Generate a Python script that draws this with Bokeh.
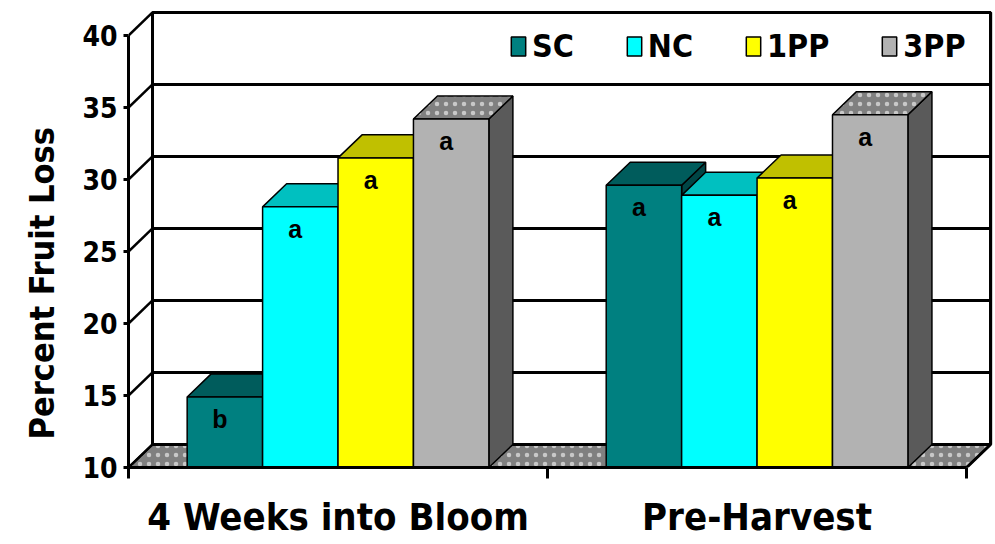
from bokeh.plotting import figure
from bokeh.models import Range1d, FixedTicker, Legend, LegendItem, Title, ColumnDataSource
from bokeh.core.properties import value
from bokeh.embed import file_html
from bokeh.resources import INLINE

# ---------------- data ----------------
categories = ["4 Weeks into Bloom", "Pre-Harvest"]
series_names = ["SC", "NC", "1PP", "3PP"]
sc_values = [14.9, 29.6]
nc_values = [28.1, 28.9]
pp1_values = [31.5, 30.1]
pp3_values = [34.2, 34.5]
sc_letters = ["b", "a"]
nc_letters = ["a", "a"]
pp1_letters = ["a", "a"]
pp3_letters = ["a", "a"]
y_ticks = [10, 15, 20, 25, 30, 35, 40]

# ---------------- style ----------------
FONT = "DejaVu Sans Condensed, Liberation Sans, sans-serif"
front_colors = ["#008080", "#00FFFF", "#FFFF00", "#B2B2B2"]
top_colors = ["#005C5C", "#00C0C0", "#C0C000", "#808080"]
side_colors = ["#004646", "#009090", "#909000", "#5A5A5A"]
BW = 0.18          # bar width (x units)
DX = 0.0573        # depth offset (x units)
DY = 1.6           # depth offset (y units)
Y0 = y_ticks[0]
Y1 = y_ticks[-1]
NCAT = len(categories)

p = figure(width=995, height=544, x_range=Range1d(0, 2.069), y_range=Range1d(Y0, 41.736),
           output_backend="svg", toolbar_location=None,
           min_border_left=128, min_border_right=0, min_border_top=10, min_border_bottom=77)
p.outline_line_color = None
p.xgrid.visible = False
p.ygrid.visible = False

# back wall
p.patch([DX, NCAT + DX, NCAT + DX, DX], [Y0 + DY, Y0 + DY, Y1 + DY, Y1 + DY],
        fill_color="white", line_color="black", line_width=3)
# floor
p.patch([0, NCAT, NCAT + DX, DX], [Y0, Y0, Y0 + DY, Y0 + DY],
        fill_color="#808080", line_color="black", line_width=2,
        hatch_pattern=".", hatch_color="#C8C8C8", hatch_scale=9, hatch_weight=1.2)
# gridlines on back wall + diagonals on the side wall
p.segment(x0=[DX] * len(y_ticks), y0=[t + DY for t in y_ticks],
          x1=[NCAT + DX] * len(y_ticks), y1=[t + DY for t in y_ticks],
          line_color="black", line_width=3)
p.segment(x0=[0] * len(y_ticks), y0=y_ticks, x1=[DX] * len(y_ticks), y1=[t + DY for t in y_ticks],
          line_color="black", line_width=2.5)
p.segment(x0=[DX, NCAT + DX, NCAT], y0=[Y0 + DY, Y0 + DY, Y0], x1=[DX, NCAT + DX, NCAT + DX],
          y1=[Y1 + DY, Y1 + DY, Y0 + DY], line_color="black", line_width=3)

all_values = [sc_values, nc_values, pp1_values, pp3_values]
all_letters = [sc_letters, nc_letters, pp1_letters, pp3_letters]
legend_items = []
for s, (name, vals, letters) in enumerate(zip(series_names, all_values, all_letters)):
    centers = [g + 0.5 + (s - 1.5) * BW for g in range(NCAT)]
    xl = [c - BW / 2 for c in centers]
    xr = [c + BW / 2 for c in centers]
    side_xs = [[r, r + DX, r + DX, r] for r in xr]
    side_ys = [[Y0, Y0 + DY, v + DY, v] for v in vals]
    p.patches(side_xs, side_ys, fill_color=side_colors[s], line_color="black", line_width=1.5)
    top_xs = [[l, r, r + DX, l + DX] for l, r in zip(xl, xr)]
    top_ys = [[v, v, v + DY, v + DY] for v in vals]
    if s == 3:
        p.patches(top_xs, top_ys, fill_color=top_colors[s], line_color="black", line_width=1.5,
                  hatch_pattern=".", hatch_color="#C8C8C8", hatch_scale=9, hatch_weight=1.2)
    else:
        p.patches(top_xs, top_ys, fill_color=top_colors[s], line_color="black", line_width=1.5)
    src = ColumnDataSource(dict(x=centers, top=vals, letter=letters))
    r = p.vbar(x="x", top="top", bottom=Y0, width=BW, source=src,
               fill_color=front_colors[s], line_color="black", line_width=1.5)
    legend_items.append(LegendItem(label=name, renderers=[r]))
    p.text(x="x", y="top", text="letter", source=src, text_align="center", text_baseline="middle",
           x_offset=-5, y_offset=22, text_font=value("Liberation Sans"), text_font_style="bold",
           text_font_size="25px", text_color="black")

# x axis: category names as major labels, minor ticks at category boundaries
xa = p.xaxis[0]
xa.ticker = FixedTicker(ticks=[g + 0.5 for g in range(NCAT)], minor_ticks=list(range(NCAT + 1)))
xa.major_label_overrides = {g + 0.5: c for g, c in enumerate(categories)}
xa.major_tick_out = 11
xa.major_tick_in = 0
xa.major_tick_line_color = None
xa.minor_tick_out = 11
xa.minor_tick_in = 0
xa.minor_tick_line_width = 3
xa.minor_tick_line_color = "black"
xa.axis_line_width = 3
xa.bounds = (0, NCAT)
xa.major_label_standoff = 16
xa.major_label_text_font = FONT
xa.major_label_text_font_style = "bold"
xa.major_label_text_font_size = "38px"
xa.major_label_text_color = "black"

ya = p.yaxis[0]
ya.ticker = FixedTicker(ticks=y_ticks)
ya.bounds = (Y0, Y1)
ya.major_tick_out = 5
ya.major_tick_in = 0
ya.major_tick_line_width = 3
ya.minor_tick_out = 0
ya.minor_tick_in = 0
ya.axis_line_width = 3
ya.major_label_standoff = 6
ya.major_label_text_font = FONT
ya.major_label_text_font_style = "bold"
ya.major_label_text_font_size = "28px"
ya.major_label_text_color = "black"

p.add_layout(Title(text="Percent Fruit Loss", align="left", text_font=FONT, text_color="black",
                   text_font_size="34px", text_font_style="bold", offset=28, standoff=35), "left")

legend = Legend(items=legend_items, orientation="horizontal", location=(381, 402),
                glyph_width=18, glyph_height=24, label_standoff=5, spacing=51,
                padding=0, margin=0, border_line_color=None, background_fill_alpha=0,
                label_text_font=FONT, label_text_font_size="32px", label_text_font_style="bold",
                label_text_color="black")
p.add_layout(legend)

open("out.html", "w").write(file_html(p, INLINE))
